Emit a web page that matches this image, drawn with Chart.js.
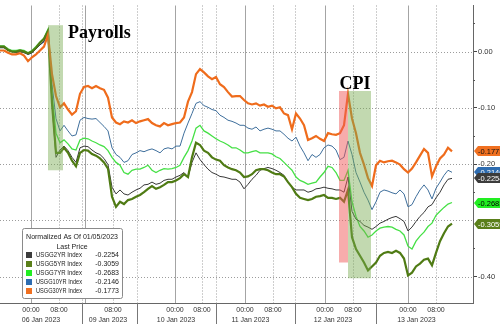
<!DOCTYPE html>
<html>
<head>
<meta charset="utf-8">
<script src="https://cdn.jsdelivr.net/npm/chart.js@4.4.1/dist/chart.umd.min.js"></script>
<style>
html, body { margin: 0; padding: 0; background: #fff; }
#wrap { width: 500px; height: 324px; }
</style>
</head>
<body>
<div id="wrap"><canvas id="c" width="500" height="324"></canvas></div>
<script>
// yields normalised to 01/05/2023, one sample per tick bucket
const seriesNames = ['USGG2YR Index', 'USGG5YR Index', 'USGG7YR Index', 'USGG10YR Index', 'USGG30YR Index'];

const usgg2yr = [0.007,0.007,0.002,0,-0.002,0,-0.002,-0.005,-0.002,0.005,0.012,0.019,0.033,-0.092,-0.188,-0.175,-0.168,-0.176,-0.188,-0.197,
  -0.171,-0.168,-0.169,-0.175,-0.180,-0.183,-0.190,-0.201,-0.241,-0.253,-0.246,-0.253,-0.255,-0.250,-0.246,-0.243,-0.237,-0.236,-0.232,-0.236,
  -0.234,-0.229,-0.227,-0.227,-0.223,-0.220,-0.215,-0.223,-0.197,-0.180,-0.192,-0.201,-0.209,-0.215,-0.218,-0.222,-0.223,-0.225,-0.227,-0.227,
  -0.232,-0.244,-0.236,-0.227,-0.220,-0.211,-0.208,-0.206,-0.208,-0.211,-0.215,-0.220,-0.232,-0.241,-0.246,-0.246,-0.246,-0.250,-0.248,-0.244,
  -0.243,-0.241,-0.243,-0.244,-0.246,-0.246,-0.250,-0.223,-0.284,-0.298,-0.302,-0.309,-0.312,-0.316,-0.311,-0.305,-0.302,-0.298,-0.295,-0.293,
  -0.297,-0.302,-0.319,-0.312,-0.302,-0.293,-0.286,-0.276,-0.272,-0.260,-0.250,-0.237,-0.227,-0.2254];

const usgg5yr = [0.009,0.009,0.003,0,0,0.002,0,-0.003,0,0.007,0.016,0.023,0.037,-0.092,-0.180,-0.180,-0.171,-0.180,-0.194,-0.204,
  -0.180,-0.175,-0.176,-0.182,-0.185,-0.190,-0.197,-0.208,-0.258,-0.276,-0.267,-0.271,-0.264,-0.262,-0.258,-0.255,-0.250,-0.244,-0.239,-0.244,
  -0.241,-0.237,-0.232,-0.232,-0.229,-0.225,-0.218,-0.223,-0.188,-0.162,-0.166,-0.176,-0.180,-0.188,-0.192,-0.194,-0.202,-0.206,-0.209,-0.211,
  -0.215,-0.223,-0.222,-0.218,-0.211,-0.209,-0.209,-0.211,-0.215,-0.218,-0.218,-0.222,-0.232,-0.241,-0.253,-0.260,-0.262,-0.264,-0.262,-0.258,
  -0.257,-0.255,-0.260,-0.260,-0.262,-0.260,-0.267,-0.246,-0.330,-0.351,-0.363,-0.375,-0.389,-0.382,-0.375,-0.363,-0.358,-0.356,-0.358,-0.354,
  -0.358,-0.368,-0.398,-0.393,-0.382,-0.377,-0.370,-0.368,-0.380,-0.358,-0.337,-0.323,-0.311,-0.3059];

const usgg7yr = [0.010,0.010,0.005,0.002,0.002,0.003,0.002,-0.002,0.002,0.009,0.017,0.024,0.040,-0.075,-0.145,-0.162,-0.157,-0.164,-0.173,-0.175,
  -0.157,-0.154,-0.155,-0.159,-0.162,-0.166,-0.169,-0.176,-0.188,-0.197,-0.202,-0.215,-0.218,-0.211,-0.209,-0.209,-0.206,-0.202,-0.211,-0.215,
  -0.211,-0.208,-0.209,-0.208,-0.206,-0.202,-0.188,-0.176,-0.159,-0.136,-0.131,-0.141,-0.145,-0.150,-0.155,-0.159,-0.162,-0.166,-0.171,-0.171,
  -0.175,-0.180,-0.180,-0.178,-0.176,-0.180,-0.180,-0.180,-0.182,-0.187,-0.190,-0.197,-0.204,-0.211,-0.223,-0.229,-0.232,-0.236,-0.234,-0.232,
  -0.223,-0.215,-0.204,-0.206,-0.215,-0.229,-0.229,-0.211,-0.267,-0.293,-0.311,-0.319,-0.330,-0.326,-0.319,-0.314,-0.312,-0.311,-0.312,-0.316,
  -0.319,-0.326,-0.346,-0.351,-0.337,-0.328,-0.321,-0.311,-0.305,-0.291,-0.284,-0.277,-0.271,-0.2683];

const usgg10yr = [0.007,0.007,0.003,0.002,0,0.002,0,-0.005,-0.002,0.005,0.012,0.017,0.035,-0.058,-0.119,-0.141,-0.131,-0.141,-0.150,-0.148,
  -0.122,-0.117,-0.119,-0.120,-0.119,-0.126,-0.133,-0.141,-0.171,-0.183,-0.188,-0.197,-0.194,-0.183,-0.180,-0.176,-0.178,-0.175,-0.173,-0.176,
  -0.180,-0.173,-0.171,-0.173,-0.168,-0.168,-0.145,-0.127,-0.110,-0.092,-0.089,-0.096,-0.099,-0.103,-0.105,-0.113,-0.117,-0.122,-0.124,-0.127,
  -0.131,-0.131,-0.136,-0.138,-0.134,-0.141,-0.138,-0.136,-0.138,-0.141,-0.141,-0.147,-0.154,-0.159,-0.152,-0.168,-0.180,-0.194,-0.183,-0.188,
  -0.183,-0.171,-0.166,-0.168,-0.175,-0.192,-0.188,-0.159,-0.183,-0.215,-0.232,-0.250,-0.264,-0.281,-0.267,-0.250,-0.246,-0.248,-0.251,-0.253,
  -0.246,-0.253,-0.276,-0.272,-0.258,-0.246,-0.237,-0.246,-0.262,-0.243,-0.232,-0.220,-0.211,-0.2146];

const usgg30yr = [0.002,0.002,-0.002,-0.005,-0.005,-0.003,-0.007,-0.017,-0.010,-0.005,0.002,0.009,0.030,-0.040,-0.079,-0.099,-0.092,-0.103,-0.112,-0.106,
  -0.075,-0.063,-0.061,-0.065,-0.061,-0.065,-0.068,-0.082,-0.117,-0.126,-0.129,-0.124,-0.126,-0.122,-0.127,-0.124,-0.122,-0.120,-0.127,-0.131,
  -0.133,-0.127,-0.131,-0.129,-0.127,-0.126,-0.117,-0.089,-0.072,-0.040,-0.031,-0.037,-0.044,-0.049,-0.045,-0.058,-0.063,-0.072,-0.080,-0.079,
  -0.079,-0.086,-0.092,-0.094,-0.092,-0.096,-0.094,-0.098,-0.096,-0.101,-0.099,-0.110,-0.113,-0.138,-0.110,-0.119,-0.131,-0.157,-0.154,-0.150,
  -0.155,-0.159,-0.145,-0.147,-0.148,-0.145,-0.131,-0.075,-0.119,-0.145,-0.180,-0.201,-0.225,-0.239,-0.202,-0.194,-0.197,-0.195,-0.194,-0.197,
  -0.201,-0.209,-0.215,-0.208,-0.197,-0.185,-0.173,-0.180,-0.222,-0.204,-0.190,-0.183,-0.171,-0.1773];

// axis: sessions, sample index of each mark
const sessionDays = ['06 Jan 2023', '09 Jan 2023', '10 Jan 2023', '11 Jan 2023', '12 Jan 2023', '13 Jan 2023'];
const dayLabelAt = [10.25, 27, 44, 62.6, 83.25, 104.1];
const dayBreaks = [20.5, 34.25, 54, 73.75, 94];
const midnights = [7.75, 21.25, 43.75, 61.25, 81.25, 102];
const mornings = [14.75, 28.25, 50.5, 68.25, 88.25, 109];
const hourLabelAt = [7.75, 14.75, 28.25, 43.75, 50.5, 61.25, 68.25, 81.25, 88.25, 102, 109];
const yGrid = [0, -0.1, -0.2, -0.3, -0.4];
const yLabelled = [0, -0.1, -0.2, -0.4]; // -0.30 sits under the 5Y tag
const yMinor = [0.05, -0.05, -0.15, -0.25, -0.35];

// release windows: [from, to, top, bottom]
const payrollsBand = [12, 15.75, 0.047, -0.211];
const cpiPreBand = [84.75, 87, -0.070, -0.375];
const cpiBand = [87, 92.75, -0.070, -0.403];

const lineColors = ['#383838', '#4f7b14', '#45e045', '#3f6f9c', '#ef6c1c'];
const tagColors = ['#3c3c3c', '#5a7f1a', '#22ee22', '#2e6cb0', '#f07020'];
const tagText = ['#fff', '#fff', '#000', '#fff', '#111'];
const lineWidths = [1, 2.2, 1.3, 1, 2.2];

const allSeries = [usgg2yr, usgg5yr, usgg7yr, usgg10yr, usgg30yr];

function seg(ctx, x1, y1, x2, y2) {
  ctx.beginPath();
  ctx.moveTo(x1, y1);
  ctx.lineTo(x2, y2);
  ctx.stroke();
}

function band(ctx, x, y, b, fill) {
  const l = x.getPixelForValue(b[0]), r = x.getPixelForValue(b[1]);
  const t = y.getPixelForValue(b[2]), btm = y.getPixelForValue(b[3]);
  ctx.fillStyle = fill;
  ctx.fillRect(l, t, r - l, btm - t);
}

const decor = {
  id: 'decor',
  beforeDatasetsDraw(chart) {
    const { ctx, chartArea: a, scales: { x, y } } = chart;
    ctx.save();
    ctx.lineWidth = 1;
    ctx.strokeStyle = '#9c9c9c';
    ctx.setLineDash([1, 2]);
    yGrid.forEach(v => {
      const py = Math.round(y.getPixelForValue(v)) + 0.5;
      seg(ctx, a.left, py, a.right, py);
    });
    mornings.concat(dayBreaks).forEach(t => {
      const px = Math.round(x.getPixelForValue(t)) + 0.5;
      seg(ctx, px, a.top, px, a.bottom);
    });
    ctx.setLineDash([]);
    ctx.strokeStyle = '#a4a4a4';
    midnights.forEach(t => {
      const px = Math.round(x.getPixelForValue(t)) + 0.5;
      seg(ctx, px, a.top, px, a.bottom);
    });
    ctx.restore();
  },
  afterDatasetsDraw(chart) {
    const { ctx, scales: { x, y } } = chart;
    ctx.save();
    band(ctx, x, y, payrollsBand, 'rgba(120,170,80,0.45)');
    band(ctx, x, y, cpiPreBand, 'rgba(240,90,90,0.5)');
    band(ctx, x, y, cpiBand, 'rgba(120,170,80,0.45)');
    ctx.fillStyle = '#000';
    ctx.font = 'bold 18px "Liberation Serif"';
    ctx.textBaseline = 'alphabetic';
    ctx.textAlign = 'left';
    ctx.fillText('Payrolls', x.getPixelForValue(payrollsBand[1]) + 5, y.getPixelForValue(payrollsBand[2]) + 13);
    ctx.textAlign = 'center';
    const cx = (x.getPixelForValue(cpiPreBand[0]) + x.getPixelForValue(cpiBand[1])) / 2;
    ctx.fillText('CPI', cx, y.getPixelForValue(cpiBand[2]) - 2);
    ctx.restore();
  },
  afterDraw(chart) {
    const { ctx, chartArea: a, scales: { x, y } } = chart;
    ctx.save();
    // session separators under the axis and date labels
    ctx.strokeStyle = '#777';
    ctx.lineWidth = 1;
    dayBreaks.forEach(t => {
      const px = Math.round(x.getPixelForValue(t)) + 0.5;
      seg(ctx, px, a.bottom, px, chart.height);
    });
    ctx.fillStyle = '#333';
    ctx.font = '7px "Liberation Sans"';
    ctx.textAlign = 'center';
    ctx.textBaseline = 'middle';
    sessionDays.forEach((d, i) => ctx.fillText(d, x.getPixelForValue(dayLabelAt[i]), a.bottom + 17));
    // minor ticks on the value axis
    ctx.strokeStyle = '#555';
    yMinor.forEach(v => {
      const py = Math.round(y.getPixelForValue(v)) + 0.5;
      seg(ctx, a.right, py, a.right + 2, py);
    });
    // last value tags
    ctx.font = '7.5px "Liberation Sans"';
    ctx.textAlign = 'left';
    for (let i = allSeries.length - 1; i >= 0; i--) {
      const s = allSeries[i];
      const last = s[s.length - 1];
      const yc = Math.round(y.getPixelForValue(last));
      const x0 = a.right + 1, h = 10;
      ctx.beginPath();
      ctx.moveTo(x0, yc);
      ctx.lineTo(x0 + 4, yc - h / 2);
      ctx.lineTo(chart.width + 2, yc - h / 2);
      ctx.lineTo(chart.width + 2, yc + h / 2);
      ctx.lineTo(x0 + 4, yc + h / 2);
      ctx.closePath();
      ctx.fillStyle = tagColors[i];
      ctx.fill();
      ctx.fillStyle = tagText[i];
      ctx.fillText(last.toFixed(4), x0 + 4, yc + 0.5);
    }
    // legend box
    const bx = a.left + 22, by = a.bottom - 75, bw = 100, bh = 70;
    ctx.fillStyle = '#fff';
    ctx.strokeStyle = '#8a8a8a';
    ctx.beginPath();
    ctx.roundRect(bx + 0.5, by + 0.5, bw, bh, 2);
    ctx.fill();
    ctx.stroke();
    ctx.fillStyle = '#222';
    ctx.font = '7px "Liberation Sans"';
    ctx.textAlign = 'center';
    ctx.fillText('Normalized As Of 01/05/2023', bx + bw / 2, by + 9, bw - 6);
    ctx.fillText('Last Price', bx + bw / 2, by + 19);
    seriesNames.forEach((n, i) => {
      const ry = by + 27 + i * 9;
      const s = allSeries[i];
      ctx.fillStyle = tagColors[i];
      ctx.fillRect(bx + 4, ry - 3, 6, 6);
      ctx.fillStyle = '#222';
      ctx.textAlign = 'left';
      ctx.fillText(n, bx + 14, ry, 46);
      ctx.textAlign = 'right';
      ctx.fillText(s[s.length - 1].toFixed(4), bx + bw - 3, ry);
    });
    ctx.restore();
  }
};

const datasets = allSeries.map((s, i) => ({
  label: seriesNames[i],
  data: s.map((v, k) => ({ x: k, y: v })),
  borderColor: lineColors[i],
  borderWidth: lineWidths[i],
  pointRadius: 0,
  tension: 0,
  fill: false,
  order: i === 4 ? 0 : (i === 1 ? 1 : 2)
}));

new Chart(document.getElementById('c'), {
  type: 'line',
  data: { datasets: datasets },
  options: {
    responsive: false,
    animation: false,
    events: [],
    layout: { padding: 0 },
    plugins: { legend: { display: false }, tooltip: { enabled: false } },
    scales: {
      x: {
        type: 'linear',
        min: 0,
        max: 118.25,
        position: 'bottom',
        afterBuildTicks: scale => { scale.ticks = hourLabelAt.map(v => ({ value: v })); },
        afterFit: scale => { scale.height = 21; },
        grid: { drawOnChartArea: false, drawTicks: false },
        border: { display: true, color: '#666' },
        ticks: {
          autoSkip: false,
          maxRotation: 0,
          padding: 3,
          color: '#333',
          font: { family: 'Liberation Sans', size: 7 },
          callback: v => midnights.includes(v) ? '00:00' : '08:00'
        }
      },
      y: {
        type: 'linear',
        position: 'right',
        min: -0.447,
        max: 0.082,
        afterBuildTicks: scale => { scale.ticks = yLabelled.map(v => ({ value: v })); },
        afterFit: scale => { scale.width = 27; },
        grid: { drawOnChartArea: false, drawTicks: true, tickLength: 4, tickColor: '#444' },
        border: { display: true, color: '#666' },
        ticks: {
          padding: 1,
          color: '#333',
          font: { family: 'Liberation Sans', size: 7.5 },
          callback: v => v.toFixed(2)
        }
      }
    }
  },
  plugins: [decor]
});
</script>
</body>
</html>
